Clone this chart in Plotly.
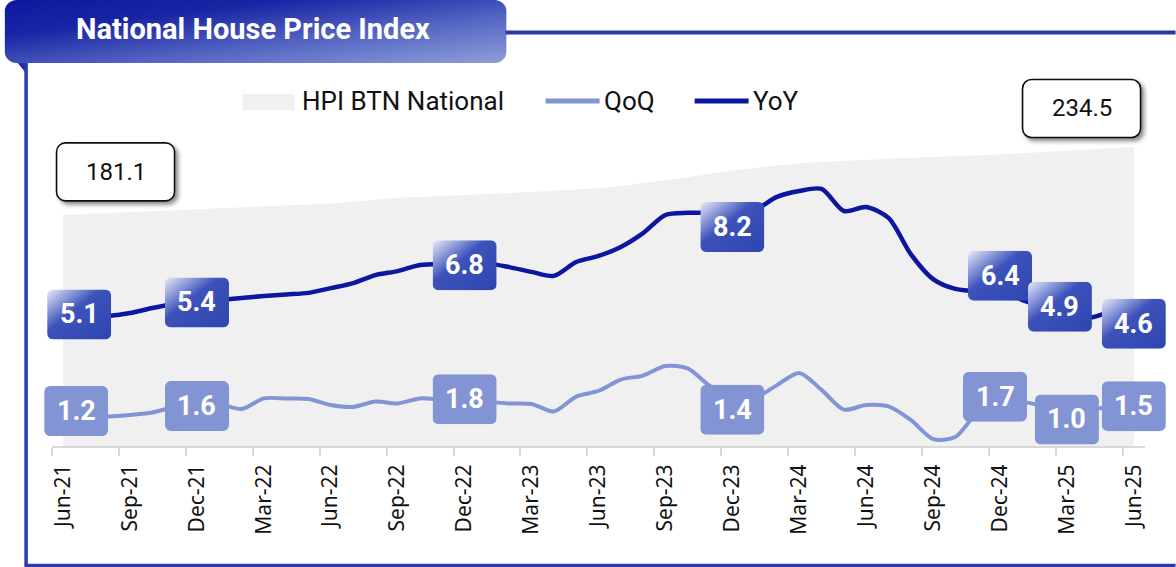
import base64
import plotly.graph_objects as go

# ---------------- data ----------------
quarter_labels = ["Jun-21", "Sep-21", "Dec-21", "Mar-22", "Jun-22", "Sep-22", "Dec-22",
                  "Mar-23", "Jun-23", "Sep-23", "Dec-23", "Mar-24", "Jun-24", "Sep-24",
                  "Dec-24", "Mar-25", "Jun-25"]

# monthly series, Jun-21 .. Jun-25 (49 months)
hpi = [181.1, 181.8, 182.5, 183.2, 183.9, 184.7, 185.5, 186.2, 186.9, 187.6, 188.3, 189.1,
       190.0, 191.5, 193.0, 194.5, 195.2, 195.9, 196.5, 197.3, 198.1, 199.0, 200.0, 201.0,
       202.0, 203.8, 205.9, 208.0, 210.6, 213.3, 216.0, 217.8, 219.7, 221.5, 222.5, 223.5,
       224.5, 225.2, 225.9, 226.5, 227.2, 227.9, 228.5, 229.5, 230.5, 231.5, 232.5, 233.5,
       234.5]
qoq = [1.09, 1.09, 1.11, 1.17, 1.26, 1.47, 1.54, 1.58, 1.39, 1.79, 1.79, 1.77,
       1.54, 1.47, 1.67, 1.60, 1.79, 1.73, 1.69, 1.66, 1.60, 1.58, 1.30, 1.86,
       2.07, 2.50, 2.65, 3.01, 2.92, 2.26, 1.92, 1.81, 2.29, 2.75, 2.11, 1.37,
       1.54, 1.49, 0.98, 0.26, 0.34, 1.28, 1.66, 1.66, 1.50, 1.39, 1.35, 1.50,
       1.54]
yoy = [4.85, 4.85, 4.89, 5.00, 5.19, 5.34, 5.42, 5.49, 5.57, 5.64, 5.70, 5.76,
       5.94, 6.13, 6.43, 6.58, 6.81, 6.85, 6.85, 6.87, 6.73, 6.55, 6.40, 6.92,
       7.15, 7.49, 8.01, 8.69, 8.77, 8.77, 8.77, 8.88, 9.37, 9.59, 9.67, 8.84,
       8.99, 8.58, 7.22, 6.28, 5.91, 5.83, 5.87, 5.49, 5.23, 5.00, 4.82, 5.04,
       4.93]

label_months = [0, 6, 18, 30, 42, 45, 48]
yoy_labels = [5.1, 5.4, 6.8, 8.2, 6.4, 4.9, 4.6]
qoq_labels = [1.2, 1.6, 1.8, 1.4, 1.7, 1.0, 1.5]

# ---------------- style / layout constants ----------------
W, H = 1176, 567
L, R, T, B = 52.4, 1145.4, 127.0, 446.0
PW, PH = R - L, B - T
N = len(hpi)
Y2MAX, YMAX = 12, 250

YOY_C = "#0d16a0"
QOQ_C = "#8394d5"
AREA_C = "#f0f0f0"
FRAME_C = "#2a3bb0"

yoy_off = [(16, -4), (0, 0), (0, 0), (0, 1), (0, 0), (-7, 9), (0, 0)]
qoq_off = [(13, 3), (0, -2.5), (0, -1), (0, -1), (-5, 4), (0, 0), (0, 0)]


def xi_px(i):
    return L + (i + 0.5) * PW / N


def y2_px(v):
    return B - v * PH / Y2MAX


def y_px(v):
    return B - v * PH / YMAX


def pxx(px):
    return (px - L) / PW


def pxy(py):
    return (B - py) / PH


def svg_uri(svg):
    return "data:image/svg+xml;base64," + base64.b64encode(svg.encode()).decode()


idx = list(range(N))
fig = go.Figure()
fig.add_trace(go.Scatter(x=idx, y=hpi, mode="lines", fill="tozeroy", fillcolor=AREA_C,
                         line=dict(width=0, color=AREA_C), yaxis="y", name="HPI BTN National",
                         hoverinfo="skip", showlegend=False))
fig.add_trace(go.Scatter(x=idx, y=qoq, mode="lines", yaxis="y2", name="QoQ",
                         line=dict(color=QOQ_C, width=4, shape="spline", smoothing=0.8),
                         showlegend=False))
fig.add_trace(go.Scatter(x=idx, y=yoy, mode="lines", yaxis="y2", name="YoY",
                         line=dict(color=YOY_C, width=4.5, shape="spline", smoothing=0.8),
                         showlegend=False))

images, annotations, shapes = [], [], []

BW, BH = 64, 50
yoy_svg = svg_uri(
    f'<svg xmlns="http://www.w3.org/2000/svg" width="{BW}" height="{BH}" viewBox="0 0 {BW} {BH}">'
    '<defs><linearGradient id="g" x1="0" y1="0" x2="1" y2="1">'
    '<stop offset="0" stop-color="#e8ecfb"/><stop offset="0.42" stop-color="#3d52ba"/>'
    '<stop offset="1" stop-color="#2d45b0"/></linearGradient></defs>'
    f'<rect width="{BW}" height="{BH}" rx="6" ry="6" fill="url(#g)"/></svg>')
qoq_svg = svg_uri(
    f'<svg xmlns="http://www.w3.org/2000/svg" width="{BW}" height="{BH}" viewBox="0 0 {BW} {BH}">'
    f'<rect width="{BW}" height="{BH}" rx="6" ry="6" fill="{QOQ_C}"/></svg>')


def add_box(src, cx, cy, w, h, text, font):
    images.append(dict(source=src, xref="paper", yref="paper", x=pxx(cx), y=pxy(cy),
                       sizex=w / PW, sizey=h / PH, xanchor="center", yanchor="middle",
                       sizing="stretch", layer="above"))
    annotations.append(dict(text=text, xref="paper", yref="paper", x=pxx(cx), y=pxy(cy),
                            xanchor="center", yanchor="middle", showarrow=False, font=font))


box_font = dict(family="Roboto", size=27, color="white")
for m, v, (dx, dy) in zip(label_months, yoy_labels, yoy_off):
    add_box(yoy_svg, xi_px(m) + dx, y2_px(v) - dy, BW, BH, f"<b>{v:.1f}</b>", box_font)
for m, v, (dx, dy) in zip(label_months, qoq_labels, qoq_off):
    add_box(qoq_svg, xi_px(m) + dx, y2_px(v) - dy, BW, BH, f"<b>{v:.1f}</b>", box_font)

# HPI value call-outs (first and last)
HW, HH, PAD = 118, 58, 4
hpi_svg = svg_uri(
    f'<svg xmlns="http://www.w3.org/2000/svg" width="{HW + 2 * PAD + 4}" height="{HH + 2 * PAD + 4}" '
    f'viewBox="0 0 {HW + 2 * PAD + 4} {HH + 2 * PAD + 4}">'
    '<defs><filter id="s" x="-20%" y="-20%" width="140%" height="150%">'
    '<feDropShadow dx="3" dy="3" stdDeviation="2" flood-color="#000" flood-opacity="0.45"/>'
    '</filter></defs>'
    f'<rect x="{PAD}" y="{PAD}" width="{HW}" height="{HH}" rx="9" ry="9" fill="white" '
    'stroke="#111" stroke-width="1.6" filter="url(#s)"/></svg>')
hpi_font = dict(family="Roboto", size=24, color="#111")
for m, (dx, dy) in zip([0, N - 1], [(52.4, 43), (-52.3, 38.3)]):
    cx, cy = xi_px(m) + dx, y_px(hpi[m]) - dy
    images.append(dict(source=hpi_svg, xref="paper", yref="paper",
                       x=pxx(cx - HW / 2 - PAD), y=pxy(cy - HH / 2 - PAD),
                       sizex=(HW + 2 * PAD + 4) / PW, sizey=(HH + 2 * PAD + 4) / PH,
                       xanchor="left", yanchor="top", sizing="stretch", layer="above"))
    annotations.append(dict(text=f"{hpi[m]:.1f}", xref="paper", yref="paper",
                            x=pxx(cx), y=pxy(cy), xanchor="center", yanchor="middle",
                            showarrow=False, font=hpi_font))

# title banner
BNW, BNH = 502, 74
banner_svg = svg_uri(
    f'<svg xmlns="http://www.w3.org/2000/svg" width="{BNW}" height="{BNH}" viewBox="0 0 {BNW} {BNH}">'
    '<defs><linearGradient id="b" x1="0" y1="0" x2="1" y2="1">'
    '<stop offset="0" stop-color="#0e189e"/><stop offset="0.28" stop-color="#1a25a4"/>'
    '<stop offset="0.62" stop-color="#5364c2"/><stop offset="1" stop-color="#8e9ed9"/>'
    '</linearGradient></defs>'
    '<polygon points="6,54 22,62 22,74" fill="#1f2ca8"/>'
    f'<rect x="0" y="0" width="{BNW}" height="63" rx="12" ry="12" fill="url(#b)"/></svg>')
images.append(dict(source=banner_svg, xref="paper", yref="paper", x=pxx(5), y=pxy(0),
                   sizex=BNW / PW, sizey=BNH / PH, xanchor="left", yanchor="top",
                   sizing="stretch", layer="above"))
annotations.append(dict(text="<b>National House Price Index</b>", xref="paper", yref="paper",
                        x=pxx(253), y=pxy(29), xanchor="center", yanchor="middle",
                        showarrow=False,
                        font=dict(family="Roboto", size=29, color="white")))

# frame lines
shapes.append(dict(type="line", xref="paper", yref="paper", x0=pxx(26.5), x1=pxx(26.5),
                   y0=pxy(63), y1=pxy(566), line=dict(color=FRAME_C, width=3.5)))
shapes.append(dict(type="line", xref="paper", yref="paper", x0=pxx(25), x1=pxx(1176),
                   y0=pxy(565.5), y1=pxy(565.5), line=dict(color=FRAME_C, width=3.5)))
shapes.append(dict(type="line", xref="paper", yref="paper", x0=pxx(506), x1=pxx(1176),
                   y0=pxy(32.5), y1=pxy(32.5), line=dict(color="#2b37a9", width=4)))

# manual legend
leg_y = 101
leg_font = dict(family="Roboto", size=26, color="#111")
shapes.append(dict(type="rect", xref="paper", yref="paper", x0=pxx(243), x1=pxx(295),
                   y0=pxy(94), y1=pxy(110), fillcolor=AREA_C, line=dict(width=0)))
shapes.append(dict(type="line", xref="paper", yref="paper", x0=pxx(546), x1=pxx(600),
                   y0=pxy(leg_y), y1=pxy(leg_y), line=dict(color=QOQ_C, width=5)))
shapes.append(dict(type="line", xref="paper", yref="paper", x0=pxx(695), x1=pxx(749),
                   y0=pxy(leg_y), y1=pxy(leg_y), line=dict(color=YOY_C, width=5)))
for txt, x0 in [("HPI BTN National", 300), ("QoQ", 602), ("YoY", 751)]:
    annotations.append(dict(text=txt, xref="paper", yref="paper", x=pxx(x0), y=pxy(leg_y),
                            xanchor="left", yanchor="middle", showarrow=False, font=leg_font))

fig.update_layout(
    width=W, height=H, autosize=False,
    margin=dict(l=L, r=W - R, t=T, b=H - B, pad=0),
    paper_bgcolor="white", plot_bgcolor="white",
    showlegend=False,
    xaxis=dict(range=[-0.5, N - 0.5], tickmode="array",
               tickvals=[3 * k - 0.5 for k in range(len(quarter_labels))],
               ticktext=quarter_labels, tickangle=-90, ticks="outside", ticklen=8,
               tickwidth=2, tickcolor="#d9d9d9", showline=True, linecolor="#d9d9d9",
               linewidth=2, showgrid=False, zeroline=False,
               ticklabelshift=round(PW / N / 2),
               tickfont=dict(family="Noto Sans", size=21, color="#111")),
    yaxis=dict(range=[0, YMAX], visible=False, showgrid=False, zeroline=False),
    yaxis2=dict(range=[0, Y2MAX], overlaying="y", side="right", visible=False,
                showgrid=False, zeroline=False),
    images=images, annotations=annotations, shapes=shapes,
)

fig.write_html("out.html", config={"displayModeBar": False},
               post_script="document.body.style.margin='0';document.body.style.overflow='hidden';")
